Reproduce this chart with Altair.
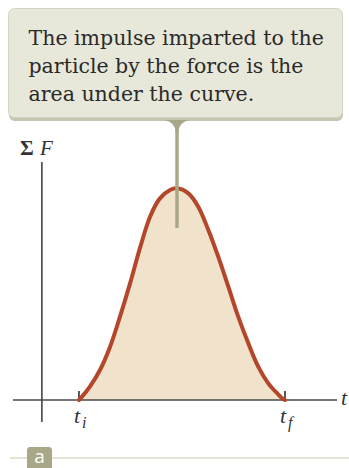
import altair as alt
import pandas as pd

# Net force during a collision, sampled from t_i to t_f
curve_t = [1.80, 1.95, 2.33, 2.82, 3.31, 3.79, 4.28, 4.78, 5.25, 5.73, 6.22, 6.54,
           7.11, 7.59, 8.08, 8.56, 9.05, 9.53, 10.02, 10.50, 10.99, 11.48, 11.65, 11.80]
curve_F = [0.00, 0.16, 0.64, 1.44, 2.56, 4.00, 5.60, 7.36, 8.80, 9.68, 10.08, 10.16,
           9.92, 9.28, 8.16, 6.88, 5.44, 4.00, 2.72, 1.60, 0.80, 0.26, 0.09, 0.00]

# Interval end points and their labels
tick_t = [1.80, 11.80]
tick_sub = ["i", "f"]

callout_lines = ["The impulse imparted to the",
                 "particle by the force is the",
                 "area under the curve."]

W, H = 349, 468
SERIF = "Liberation Serif"

curve = pd.DataFrame({"t": curve_t, "F": curve_F})
ticks = pd.DataFrame({"t": tick_t, "sub": tick_sub})
one = pd.DataFrame({"k": [0]})

xs = alt.Scale(domain=[0, 10], range=[41.9, 247.9], nice=False, zero=False)
ys = alt.Scale(domain=[0, 10], range=[400, 191.7], nice=False, zero=False)
X = alt.X("t:Q", scale=xs, axis=None)
Y = alt.Y("F:Q", scale=ys, axis=None)

area = alt.Chart(curve).mark_area(fill="#f1e2cb", interpolate="catmull-rom").encode(x=X, y=Y)
line = alt.Chart(curve).mark_line(stroke="#b4462b", strokeWidth=4, interpolate="catmull-rom",
                                  strokeCap="round").encode(x=X, y=Y)

# Axes drawn as plain lines
x_axis = alt.Chart(one).mark_rule(stroke="#4a4a4a", strokeWidth=1.5).encode(
    y=alt.Y(datum=0, scale=ys, axis=None), x=alt.value(13), x2=alt.value(337))
y_axis = alt.Chart(one).mark_rule(stroke="#3a3a3a", strokeWidth=1.5).encode(
    x=alt.X(datum=0, scale=xs, axis=None), y=alt.value(162), y2=alt.value(422))

tick_marks = alt.Chart(ticks).mark_rule(stroke="#222222", strokeWidth=1.5).encode(
    x=X, y=alt.value(391), y2=alt.value(400))
tick_t_text = alt.Chart(ticks).mark_text(
    text="t", font=SERIF, fontStyle="italic", fontSize=22, align="center",
    baseline="alphabetic", dx=-2, color="#333333").encode(x=X, y=alt.value(423))
tick_sub_text = alt.Chart(ticks).mark_text(
    font=SERIF, fontStyle="italic", fontSize=16, align="left",
    baseline="alphabetic", dx=3, color="#333333").encode(x=X, y=alt.value(428), text="sub:N")

t_label = alt.Chart(one).mark_text(
    text="t", font=SERIF, fontStyle="italic", fontSize=22, align="left",
    baseline="alphabetic", color="#333333").encode(x=alt.value(341), y=alt.value(405))
sigma = alt.Chart(one).mark_text(
    text="Σ", font=SERIF, fontWeight="bold", fontSize=21, align="left",
    baseline="alphabetic", color="#333333").encode(x=alt.value(20), y=alt.value(155))
f_label = alt.Chart(one).mark_text(
    text="F", font=SERIF, fontStyle="italic", fontSize=21, align="left",
    baseline="alphabetic", color="#333333").encode(x=alt.value(40), y=alt.value(155))

# Callout box with pointer
box_shadow = alt.Chart(one).mark_rect(fill="#c6c6ae", cornerRadius=6).encode(
    x=alt.value(9), x2=alt.value(343), y=alt.value(12), y2=alt.value(121))
box = alt.Chart(one).mark_rect(fill="#e8e8da", stroke="#d4d4c2", strokeWidth=1,
                               cornerRadius=6).encode(
    x=alt.value(8.5), x2=alt.value(342.5), y=alt.value(8.5), y2=alt.value(117.5))
box_text = alt.Chart(one).mark_text(
    text=callout_lines, font="DejaVu Serif", fontSize=20.5, lineHeight=28.3, align="left",
    baseline="alphabetic", color="#2a2a2a").encode(x=alt.value(28.5), y=alt.value(44.5))
funnel = alt.Chart(one).mark_point(
    shape="M -1 -0.5 L 1 -0.5 Q 0.15 -0.3 0.12 0.5 L -0.12 0.5 Q -0.15 -0.3 -1 -0.5 Z",
    size=580, filled=True, fill="#a8a888", opacity=1, strokeWidth=0).encode(
    x=alt.value(177), y=alt.value(126))
pointer = alt.Chart(one).mark_rule(stroke="#a8a888", strokeWidth=3.5).encode(
    x=alt.value(177), y=alt.value(128), y2=alt.value(228))

# Panel tag
bottom_rule = alt.Chart(one).mark_rule(stroke="#dcdcc4", strokeWidth=1.5).encode(
    x=alt.value(10), x2=alt.value(349), y=alt.value(458))
tag = alt.Chart(one).mark_rect(fill="#a8a888", cornerRadius=3).encode(
    x=alt.value(27), x2=alt.value(52), y=alt.value(447), y2=alt.value(474))
tag_text = alt.Chart(one).mark_text(
    text="a", font="Open Sans", fontSize=19, align="center",
    baseline="alphabetic", color="white").encode(x=alt.value(39.5), y=alt.value(463))

chart = alt.layer(
    area, x_axis, y_axis, tick_marks, line, tick_t_text, tick_sub_text, t_label,
    sigma, f_label, box_shadow, box, box_text, funnel, pointer,
    bottom_rule, tag, tag_text
).properties(
    width=W, height=H, padding=0, background="white",
    autosize=alt.AutoSizeParams(type="none")
).configure_view(strokeWidth=0)

chart.save("out.html", embed_options={"renderer": "svg", "actions": False})
